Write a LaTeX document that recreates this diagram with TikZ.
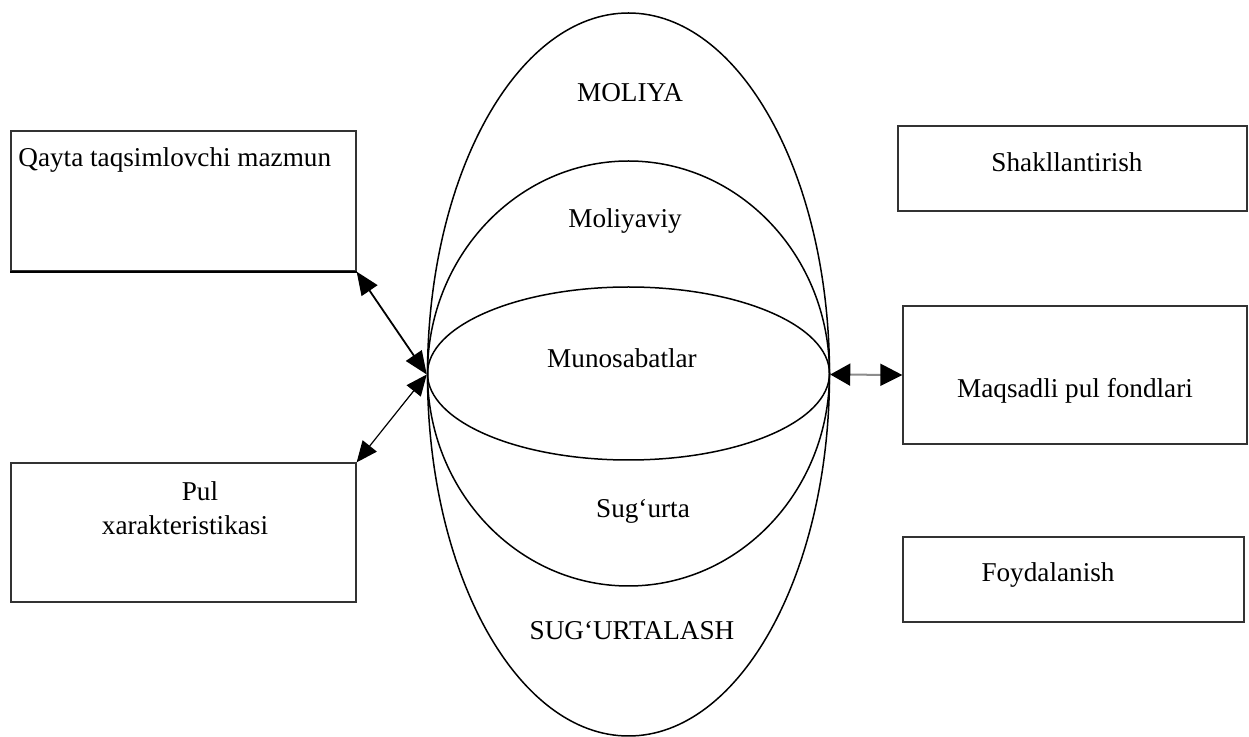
\documentclass[tikz,border=0pt]{standalone}
\usepackage{fontspec}
\setmainfont{Liberation Serif}
\usetikzlibrary{shapes.geometric,arrows.meta}

\tikzset{
  oval/.style={ellipse, draw=black, line width=0.75pt, inner sep=0pt, minimum width=201pt},
  box/.style={rectangle, draw=black!80, line width=0.65pt, inner sep=0pt},
  lbl/.style={anchor=base, inner sep=0pt, font=\fontsize{13.6pt}{16pt}\selectfont},
  link/.style={line width=0.9pt, {Triangle[length=11.5pt,width=9.5pt]}-{Triangle[length=11.5pt,width=9.5pt]}},
  thinlink/.style={line width=0.6pt, {Triangle[length=10.5pt,width=9pt]}-{Triangle[length=10.5pt,width=9pt]}},
  sidelink/.style={line width=1pt, draw=black!45, {Triangle[length=10pt,width=11pt,color=black]}-{Triangle[length=11pt,width=11pt,color=black]}}
}

\begin{document}
\begin{tikzpicture}[x=0.5pt,y=-0.5pt]
  \fill[white] (0,0) rectangle (1249,737);
  \useasboundingbox (0,0) rectangle (1249,737);

  % nested ovals
  \node[oval, minimum height=361.5pt] (outer)  at (628.5,374.5) {};
  \node[oval, minimum height=212.5pt] (middle) at (628.5,373.5) {};
  \node[oval, minimum height=86.5pt]  (inner)  at (628.5,373.5) {};

  \node[lbl] (tMoliya)   at (630,102) {MOLIYA};
  \node[lbl] (tMoliyaviy) at (625,228) {Moliyaviy};
  \node[lbl] (tMunos)    at (622,368) {Munosabatlar};
  \node[lbl] (tSugurta)  at (643,518) {Sug‘urta};
  \node[lbl] (tSugurtal) at (632,640) {SUG‘URTALASH};

  % left boxes
  \node[box, minimum width=172.5pt, minimum height=70pt]   (qayta) at (183.5,201) {};
  \draw[line width=1.1pt] (qayta.south west) -- (qayta.south east);
  \node[lbl, anchor=base west] (tQayta) at (18,167) {Qayta taqsimlovchi mazmun};

  \node[box, minimum width=172.5pt, minimum height=69.5pt] (pul) at (183.5,532.5) {};
  \node[lbl] (tPul)  at (200,501) {Pul};
  \node[lbl] (tXar)  at (185,535) {xarakteristikasi};

  % right boxes
  \node[box, minimum width=174.5pt, minimum height=42.5pt] (shakl) at (1072.5,168.5) {};
  \node[lbl] (tShakl) at (1067,172) {Shakllantirish};

  \node[box, minimum width=172pt, minimum height=69pt] (fond) at (1075,375) {};
  \node[lbl] (tFond) at (1075,398) {Maqsadli pul fondlari};

  \node[box, minimum width=170.5pt, minimum height=42.5pt] (foyda) at (1073.5,579.5) {};
  \node[lbl] (tFoyda) at (1048,582) {Foydalanish};

  % connectors
  \draw[link] (qayta.south east) -- (outer.west);
  \draw[thinlink] (pul.north east) -- (outer.west);
  \draw[sidelink] (outer.east) -- (fond.west);
\end{tikzpicture}
\end{document}
